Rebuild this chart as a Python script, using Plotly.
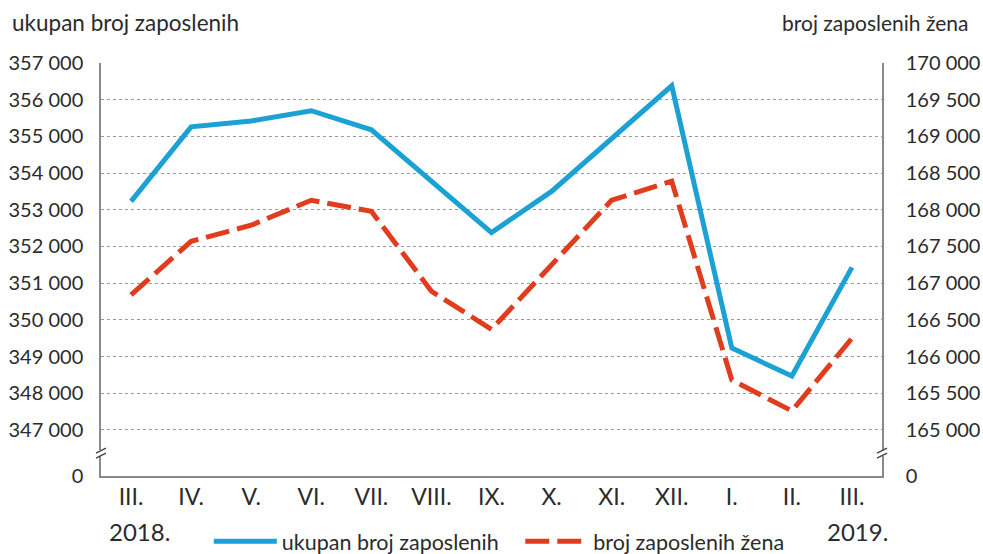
import plotly.graph_objects as go

months = ["III.", "IV.", "V.", "VI.", "VII.", "VIII.", "IX.", "X.", "XI.", "XII.", "I.", "II.", "III. "]
ukupno = [353230, 355260, 355420, 355700, 355180, 353780, 352380, 353500, 354950, 356380, 349230, 348470, 351430]
zene = [166840, 167570, 167790, 168130, 167980, 166890, 166370, 167240, 168130, 168390, 165680, 165260, 166250]

left_ticks = [347000, 348000, 349000, 350000, 351000, 352000, 353000, 354000, 355000, 356000, 357000]
left_labels = ["347 000", "348 000", "349 000", "350 000", "351 000", "352 000", "353 000", "354 000", "355 000", "356 000", "357 000"]
right_ticks = [165000, 165500, 166000, 166500, 167000, 167500, 168000, 168500, 169000, 169500, 170000]
right_labels = ["165 000", "165 500", "166 000", "166 500", "167 000", "167 500", "168 000", "168 500", "169 000", "169 500", "170 000"]

left_zero = 345745   # axis position labelled "0" (broken axis)
right_zero = 165000 - (347000 - left_zero) / 2

FONT = "Lato"
TXT = "#2b2b2b"
BLUE = "#1ba1d4"
RED = "#e03c1e"
AXC = "#8a8a8a"

fig = go.Figure()
fig.add_trace(go.Scatter(x=months, y=ukupno, mode="lines",
                         name="ukupan broj zaposlenih\u00a0\u00a0\u00a0",
                         line=dict(color=BLUE, width=5), yaxis="y"))
fig.add_trace(go.Scatter(x=months, y=zene, mode="lines", name="broj zaposlenih žena",
                         line=dict(color=RED, width=5, dash="24px,8px"), yaxis="y2"))

fig.update_layout(
    width=983, height=554,
    margin=dict(l=101, r=101, t=63, b=78, autoexpand=False),
    paper_bgcolor="white", plot_bgcolor="white",
    font=dict(family=FONT, size=21, color=TXT),
    showlegend=True,
    legend=dict(orientation="h", x=0.510, xanchor="center", y=-0.158, yanchor="middle",
                font=dict(size=21.5, color=TXT), itemwidth=63, traceorder="normal",
                bgcolor="rgba(0,0,0,0)", borderwidth=0, tracegroupgap=0),
    xaxis=dict(type="category", showline=True, linecolor=AXC, linewidth=1.5,
               showgrid=False, ticks="", tickfont=dict(size=23, color=TXT),
               tickvals=months, ticktext=[m.strip() for m in months],
               range=[-0.5, 12.5], automargin=False),
    yaxis=dict(range=[left_zero, 357000],
               tickvals=[left_zero] + left_ticks, ticktext=["0"] + left_labels,
               showgrid=True, gridcolor="#9a9a9a", griddash="dot", gridwidth=1,
               showline=True, linecolor=AXC, linewidth=1.5, zeroline=False,
               ticks="", ticklabelstandoff=12, tickfont=dict(size=20, color=TXT),
               automargin=False),
    yaxis2=dict(range=[right_zero, 170000], overlaying="y", side="right",
                tickvals=[right_zero] + right_ticks, ticktext=["0"] + right_labels,
                showgrid=False, showline=True, linecolor=AXC, linewidth=1.5, zeroline=False,
                ticks="", ticklabelstandoff=18, tickfont=dict(size=20, color=TXT),
                automargin=False),
)

# axis titles and year labels
fig.add_annotation(text="ukupan broj zaposlenih", xref="paper", yref="paper",
                   x=-0.116, y=1.0, xanchor="left", yanchor="middle", yshift=41,
                   showarrow=False, font=dict(size=22.5, color=TXT))
fig.add_annotation(text="broj zaposlenih žena", xref="paper", yref="paper",
                   x=1.113, y=1.0, xanchor="right", yanchor="middle", yshift=41,
                   showarrow=False, font=dict(size=21, color=TXT))
fig.add_annotation(text="2018.", xref="x", yref="paper", x=months[0], y=-0.135,
                   xanchor="center", yanchor="middle", xshift=8,
                   showarrow=False, font=dict(size=24, color=TXT))
fig.add_annotation(text="2019.", xref="x", yref="paper", x=months[-1], y=-0.135,
                   xanchor="center", yanchor="middle", xshift=6,
                   showarrow=False, font=dict(size=24, color=TXT))

# axis break marks
def brk(xp, yl):
    ys = (yl[1] - yl[0]) / 413.0  # value per pixel
    yc = yl[2]
    fig.add_shape(type="line", xref="paper", yref=yl[3], x0=xp, x1=xp,
                  y0=yc - 3 * ys, y1=yc + 3 * ys, line=dict(color="white", width=4))
    for off in (-2.5, 2.5):
        fig.add_shape(type="line", xref="paper", yref=yl[3],
                      x0=xp - 5 / 781, x1=xp + 5 / 781,
                      y0=yc + (off - 2.5) * ys, y1=yc + (off + 2.5) * ys,
                      line=dict(color="#444", width=1.5))

brk(0.0, (left_zero, 357000, 346370, "y"))
brk(1.0, (right_zero, 170000, 165000 - (347000 - 346370) / 2, "y2"))

fig.write_html("out.html", config={"displayModeBar": False},
               post_script="document.body.style.margin='0px';document.body.style.overflow='hidden';")
